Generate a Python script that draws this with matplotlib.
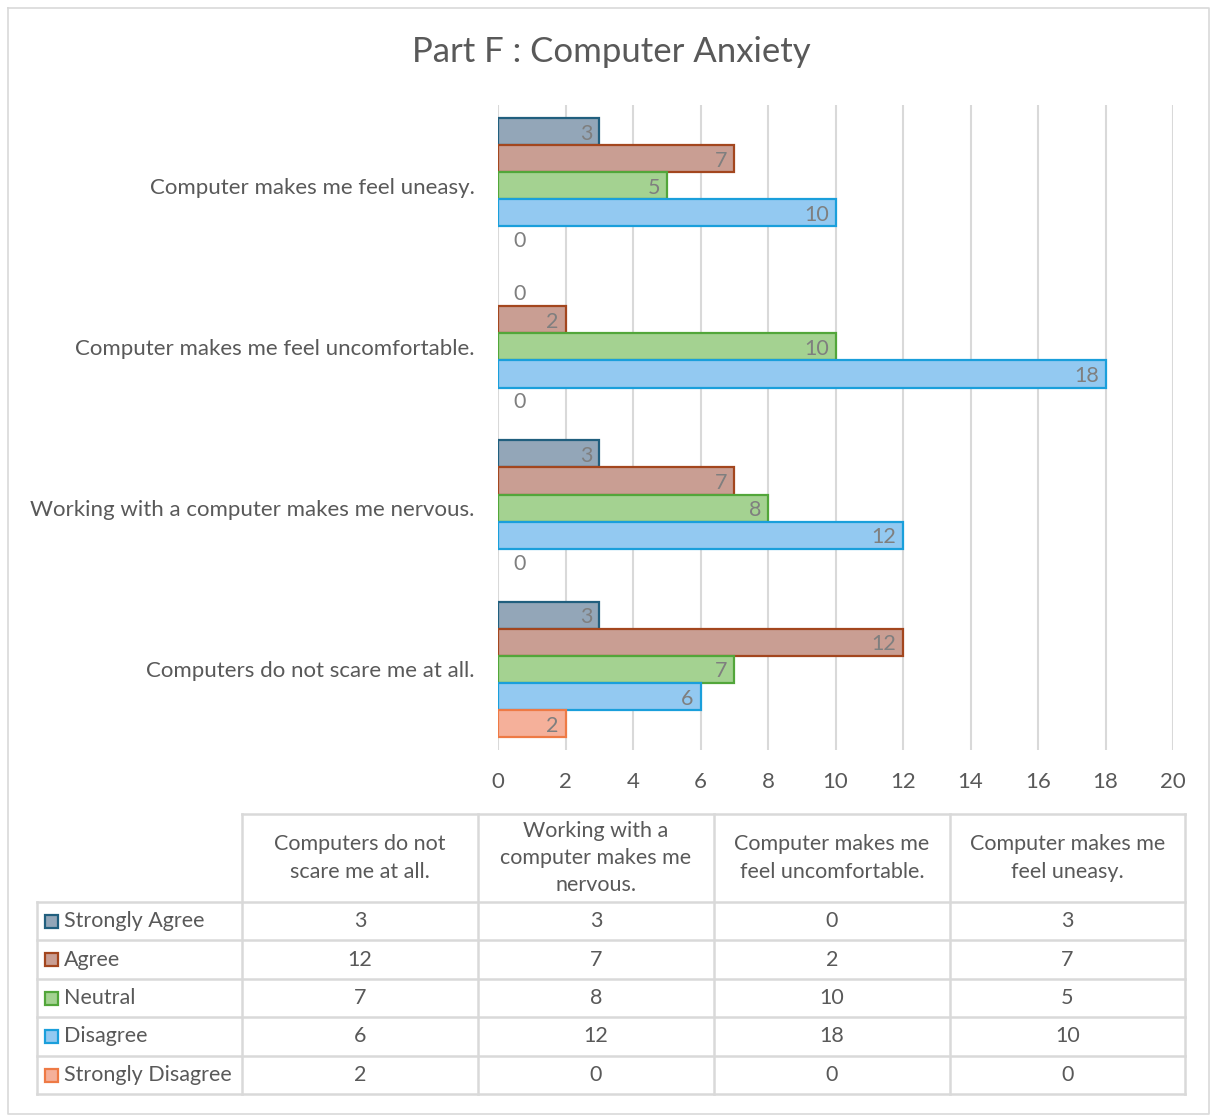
import matplotlib
matplotlib.use("Agg")
import matplotlib.pyplot as plt
import numpy as np

plt.rcParams['font.family'] = ['Lato', 'DejaVu Sans']

# data
categories = ["Computers do not scare me at all.",
              "Working with a computer makes me nervous.",
              "Computer makes me feel uncomfortable.",
              "Computer makes me feel uneasy."]
header_labels = ["Computers do not\nscare me at all.",
                 "Working with a\ncomputer makes me\nnervous.",
                 "Computer makes me\nfeel uncomfortable.",
                 "Computer makes me\nfeel uneasy."]
series_names = ["Strongly Agree", "Agree", "Neutral", "Disagree", "Strongly Disagree"]
strongly_agree = [3, 3, 0, 3]
agree = [12, 7, 2, 7]
neutral = [7, 8, 10, 5]
disagree = [6, 12, 18, 10]
strongly_disagree = [2, 0, 0, 0]
series_values = [strongly_agree, agree, neutral, disagree, strongly_disagree]

fills = ["#93a6b8", "#c99e93", "#a4d291", "#93c9f1", "#f5b09a"]
edges = ["#215f7e", "#a3461e", "#52a63a", "#1a9fdb", "#ee7a45"]
txt = "#595959"
grid_c = "#d9d9d9"

W, H = 1210, 1115
fig = plt.figure(figsize=(W/100, H/100), dpi=100)

# main bar chart
ax = fig.add_axes([498/W, 1-750/H, (1173-498)/W, (750-105)/H])
bh = 0.168
y = np.arange(len(categories))
for k, (name, vals) in enumerate(zip(series_names, series_values)):
    off = (2 - k) * bh
    lws = [1.6 if v > 0 else 0 for v in vals]
    ax.barh(y + off, vals, height=bh, color=fills[k], edgecolor=edges[k], linewidth=lws, zorder=3)
    for yi, v in zip(y, vals):
        if v == 0:
            ax.annotate(str(v), (0, yi + off), xytext=(11, -1), textcoords='offset points',
                        ha='left', va='center', fontsize=15.5, color="#7f7f7f", zorder=4)
        else:
            ax.annotate(str(v), (v, yi + off), xytext=(-5, -1.5), textcoords='offset points',
                        ha='right', va='center', fontsize=15.5, color="#7f7f7f", zorder=4)

ax.set_xlim(0, 20)
ax.set_ylim(-0.5, 3.5)
ax.set_xticks(np.arange(0, 21, 2))
ax.set_yticks(y)
ax.set_yticklabels(categories)
ax.tick_params(axis='both', length=0, labelsize=16, colors=txt)
ax.tick_params(axis='y', pad=17)
ax.tick_params(axis='x', pad=16)
ax.grid(axis='x', color=grid_c, linewidth=1.5, zorder=0)
for s in ax.spines.values():
    s.set_visible(False)

fig.text(611/W, 1-52/H, "Part F : Computer Anxiety", ha='center', va='center', fontsize=25, color=txt)

# overlay for table and border
ov = fig.add_axes([0, 0, 1, 1])
ov.set_xlim(0, W)
ov.set_ylim(H, 0)
ov.axis('off')
ov.patch.set_alpha(0)

ov.plot([8, W - 1, W - 1, 8, 8], [8, 8, H - 1, H - 1, 8], color=grid_c, lw=1.2)

col_x = [37, 242, 478, 714, 950, 1185]
row_y = [814, 902, 940, 979, 1017, 1056, 1094]
lw_t = 1.8
# header
ov.plot([col_x[1], col_x[-1]], [row_y[0], row_y[0]], color=grid_c, lw=lw_t)
for yy in row_y[1:]:
    ov.plot([col_x[0], col_x[-1]], [yy, yy], color=grid_c, lw=lw_t)
for i, xx in enumerate(col_x):
    top = row_y[1] if i == 0 else row_y[0]
    ov.plot([xx, xx], [top, row_y[-1]], color=grid_c, lw=lw_t)

for j, lab in enumerate(header_labels):
    cx = (col_x[j + 1] + col_x[j + 2]) / 2
    ov.text(cx, (row_y[0] + row_y[1]) / 2, lab, ha='center', va='center',
            fontsize=15.5, color=txt, linespacing=1.45)

for k, (name, vals) in enumerate(zip(series_names, series_values)):
    cy = (row_y[k + 1] + row_y[k + 2]) / 2
    ov.add_patch(plt.Rectangle((45, cy - 6.5), 13, 13, facecolor=fills[k],
                               edgecolor=edges[k], lw=1.6))
    ov.text(64, cy, name, ha='left', va='center', fontsize=15.5, color=txt)
    for j, v in enumerate(vals):
        cx = (col_x[j + 1] + col_x[j + 2]) / 2
        ov.text(cx, cy, str(v), ha='center', va='center', fontsize=15.5, color=txt)

fig.savefig("out.png", dpi=100, facecolor='white')
